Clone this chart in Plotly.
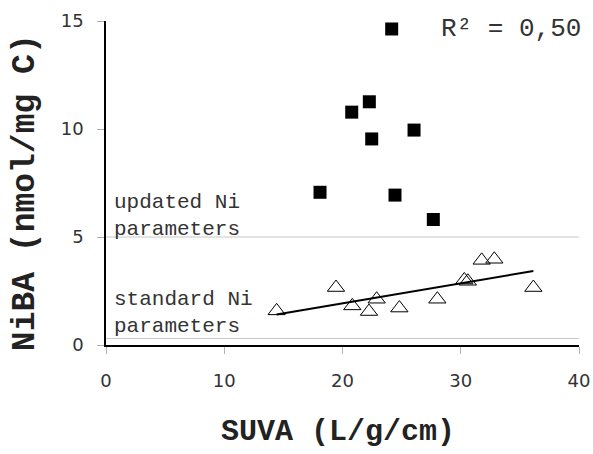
import numpy as np
import plotly.graph_objects as go

# Updated Ni parameters (filled squares)
upd_suva = [24.16, 20.78, 22.27, 22.47, 26.05, 18.10, 24.44, 27.68]
upd_niba = [14.63, 10.78, 11.26, 9.54, 9.95, 7.07, 6.94, 5.81]

# Standard Ni parameters (open triangles)
std_suva = [14.43, 19.45, 20.83, 22.24, 22.89, 24.81, 28.02, 30.30, 30.60, 31.77, 32.84, 36.14]
std_niba = [1.58, 2.66, 1.81, 1.55, 2.12, 1.71, 2.12, 3.01, 2.95, 3.92, 3.97, 2.66]

x_ticks = [0, 10, 20, 30, 40]
y_ticks = [0, 5, 10, 15]
divider_levels = [5, 0.3]

# linear trend for standard parameters
coef = np.polyfit(std_suva, std_niba, 1)
trend_x = [min(std_suva), max(std_suva)]
trend_y = [coef[0] * v + coef[1] for v in trend_x]

fig = go.Figure()

for lvl in divider_levels:
    fig.add_shape(type="line", xref="paper", yref="y", x0=0, x1=1, y0=lvl, y1=lvl,
                  line=dict(color="#c8c8c8", width=1), layer="below")

fig.add_trace(go.Scatter(x=trend_x, y=trend_y, mode="lines",
                         line=dict(color="black", width=2), showlegend=False))
fig.add_trace(go.Scatter(x=std_suva, y=std_niba, mode="markers",
                         marker=dict(symbol="triangle-up-open", size=15,
                                     color="black", line=dict(width=1, color="black")),
                         showlegend=False))
fig.add_trace(go.Scatter(x=upd_suva, y=upd_niba, mode="markers",
                         marker=dict(symbol="square", size=13, color="black"),
                         showlegend=False))

mono = "Liberation Mono, Courier New, monospace"

fig.add_annotation(text="updated Ni<br>parameters", xref="paper", yref="paper",
                   x=0.012, y=0.398, xanchor="left", yanchor="middle", align="left",
                   showarrow=False, font=dict(family=mono, size=21, color="#333"))
fig.add_annotation(text="standard Ni<br>parameters", xref="paper", yref="paper",
                   x=0.012, y=0.099, xanchor="left", yanchor="middle", align="left",
                   showarrow=False, font=dict(family=mono, size=21, color="#333"))
fig.add_annotation(text="R² = 0,50", xref="paper", yref="paper",
                   x=0.856, y=0.975, xanchor="center", yanchor="middle",
                   showarrow=False, font=dict(family=mono, size=26, color="#333"))
fig.add_annotation(text="<b>SUVA (L/g/cm)</b>", xref="paper", yref="paper",
                   x=0.49, y=-0.269, xanchor="center", yanchor="middle",
                   showarrow=False, font=dict(family=mono, size=30, color="#222"))
fig.add_annotation(text="<b>NiBA (nmol/mg C)</b>", xref="paper", yref="paper",
                   x=-0.171, y=0.469, xanchor="center", yanchor="middle", textangle=-90,
                   showarrow=False, font=dict(family=mono, size=33, color="#222"))

tickfont = dict(family="DejaVu Sans, Verdana, sans-serif", size=18, color="#333")

fig.update_xaxes(range=[0, 40], tickvals=x_ticks, showgrid=False, zeroline=False,
                 showline=True, linecolor="black", linewidth=1.5, automargin=False,
                 ticks="outside", ticklen=7, tickcolor="#b0b0b0", tickwidth=1,
                 tickfont=tickfont, ticklabelstandoff=12)
fig.update_yaxes(range=[0, 15], tickvals=y_ticks, showgrid=False, zeroline=False,
                 showline=True, linecolor="black", linewidth=1.5, automargin=False,
                 ticks="outside", ticklen=7, tickcolor="#b0b0b0", tickwidth=1,
                 tickfont=tickfont, ticklabelstandoff=10)

fig.update_layout(width=593, height=454, margin=dict(l=106, r=14, t=21, b=109),
                  plot_bgcolor="white", paper_bgcolor="white")

fig.write_html("out.html")
